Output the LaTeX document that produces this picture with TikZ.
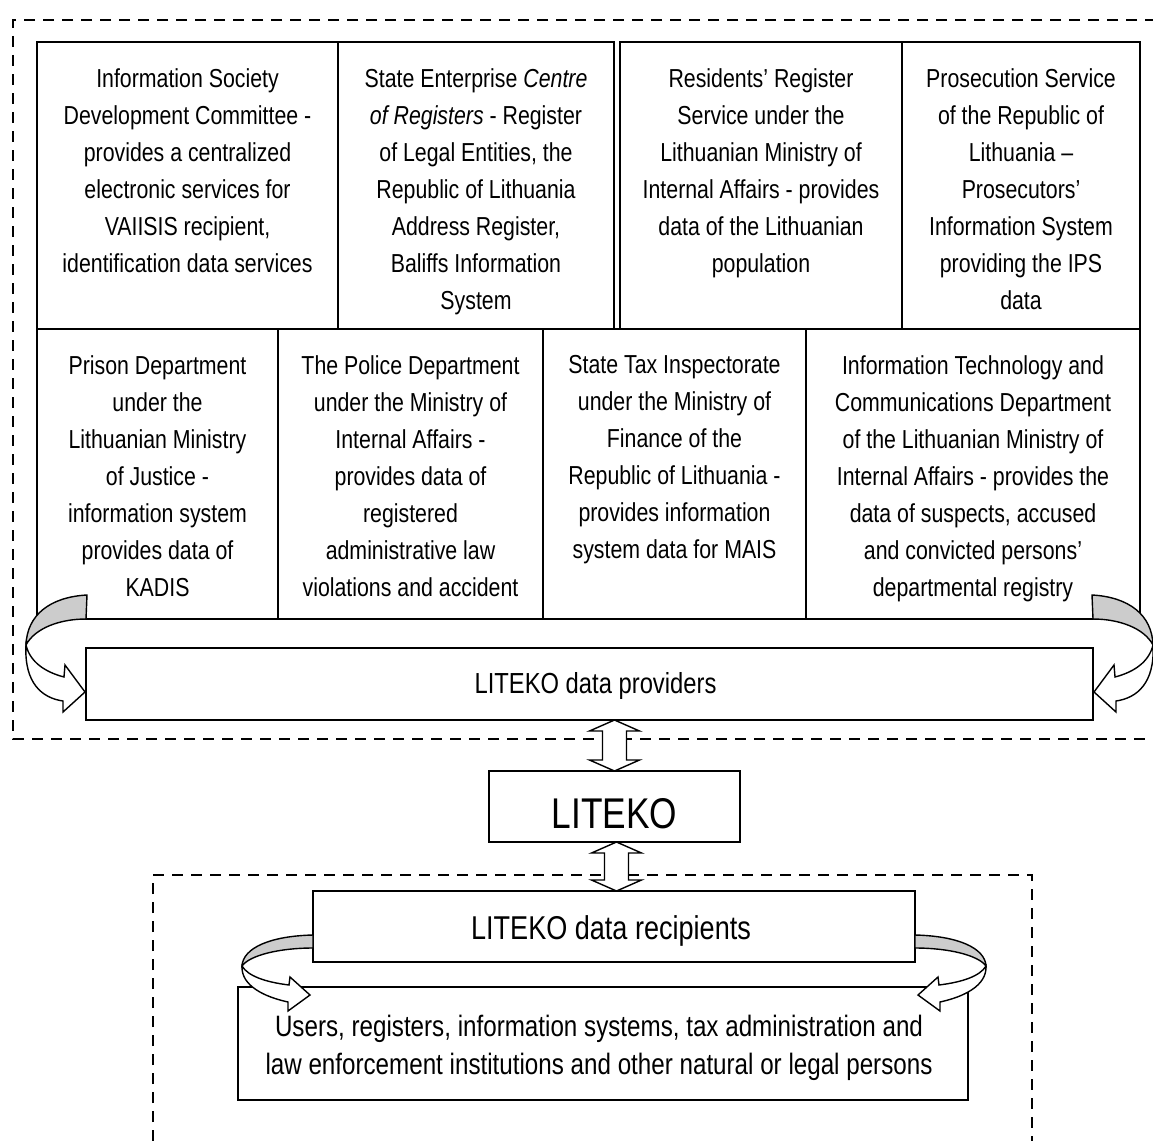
\documentclass[tikz,border=0pt]{standalone}
\usepackage{fontspec}
\setmainfont{Liberation Sans}[FakeStretch=0.82]
\usetikzlibrary{calc}
\newcommand\myTopCurl{%
  \filldraw[gry] (87,595) .. controls (50,597) and (27,615) .. (26,645)
     .. controls (35,628) and (60,619) .. (86,619) -- cycle;
  \filldraw[blk] (26,645) .. controls (24,683) and (42,698) .. (63,701)
     -- (63,712) -- (85,692) -- (65,665) -- (64,677)
     .. controls (45,672) and (30,662) .. (26,645) -- cycle;
}
\newcommand\myBotCurl{%
  \filldraw[gry] (313,935) .. controls (270,936) and (243,948) .. (242,966)
     .. controls (250,955) and (280,948) .. (313,948) -- cycle;
  \filldraw[blk] (242,966) .. controls (241,986) and (265,997) .. (288,1002)
     -- (288,1011) -- (310,995) -- (290,977) -- (289,985)
     .. controls (265,982) and (248,976) .. (242,966) -- cycle;
}
\begin{document}
\begin{tikzpicture}[x=1pt,y=-1pt,
  box/.style={draw, line width=1.4pt, inner sep=0pt, outer sep=0pt},
  txt/.style={align=center, inner sep=0pt, font=\fontsize{26}{37}\selectfont, anchor=north},
  lbl/.style={inner sep=0pt},
  dsh/.style={line width=2.8pt, dash pattern=on 11pt off 8pt},
  blk/.style={draw, line width=1.4pt, fill=white, line join=miter},
  gry/.style={draw, line width=1.4pt, fill=black!20}]
\useasboundingbox (0,0) rectangle (1153,1140);
\clip (0,0) rectangle (1153,1140);

% dashed groups
\draw[dsh] (1175,20) -- (13,20) -- (13,739) -- (1175,739);
\draw[dsh] (153,1160) -- (153,875) -- (1032,875) -- (1032,1160);

% top row
\node[box, minimum width=301pt, minimum height=287pt] (b1) at (187.5,185.5) {};
\node[box, minimum width=276pt, minimum height=287pt] (b2) at (476,185.5) {};
\node[box, minimum width=282pt, minimum height=287pt] (b3) at (761,185.5) {};
\node[box, minimum width=238pt, minimum height=287pt] (b4) at (1021,185.5) {};
% second row
\node[box, minimum width=241pt, minimum height=290pt] (b5) at (157.5,474) {};
\node[box, minimum width=265pt, minimum height=290pt] (b6) at (410.5,474) {};
\node[box, minimum width=263pt, minimum height=290pt] (b7) at (674.5,474) {};
\node[box, minimum width=334pt, minimum height=290pt] (b8) at (973,474) {};

\node[txt] (t1) at ($(b1.north)+(0,26)$) {Information Society\\Development Committee -\\provides a centralized\\electronic services for\\VAIISIS recipient,\\identification data services};
\node[txt] (t2) at ($(b2.north)+(0,26)$) {State Enterprise \textit{Centre}\\\textit{of Registers} - Register\\of Legal Entities, the\\Republic of Lithuania\\Address Register,\\Baliffs Information\\System};
\node[txt] (t3) at ($(b3.north)+(0,26)$) {Residents' Register\\Service under the\\Lithuanian Ministry of\\Internal Affairs - provides\\data of the Lithuanian\\population};
\node[txt] (t4) at ($(b4.north)+(0,26)$) {Prosecution Service\\of the Republic of\\Lithuania –\\Prosecutors’\\Information System\\providing the IPS\\data};
\node[txt] (t5) at ($(b5.north)+(0,26)$) {Prison Department\\under the\\Lithuanian Ministry\\of Justice -\\information system\\provides data of\\KADIS};
\node[txt] (t6) at ($(b6.north)+(0,26)$) {The Police Department\\under the Ministry of\\Internal Affairs -\\provides data of\\registered\\administrative law\\violations and accident};
\node[txt] (t7) at ($(b7.north)+(0,26)$) {State Tax Inspectorate\\under the Ministry of\\Finance of the\\Republic of Lithuania -\\provides information\\system data for MAIS};
\node[txt] (t8) at ($(b8.north)+(0,26)$) {Information Technology and\\Communications Department\\of the Lithuanian Ministry of\\Internal Affairs - provides the\\data of suspects, accused\\and convicted persons’\\departmental registry};

% providers, LITEKO, recipients, users
\node[box, fill=white, minimum width=1007pt, minimum height=72pt] (prov) at (589.5,684) {};
\node[lbl, font=\fontsize{29}{35}\selectfont] (tprov) at ($(prov.center)+(6,2)$) {LITEKO data providers};
\node[box, minimum width=251pt, minimum height=71pt] (lit) at (614.5,806.5) {};
\node[lbl, font=\fontsize{43}{50}\selectfont] (tlit) at ($(lit.center)+(0,7)$) {LITEKO};
\node[box, minimum width=602pt, minimum height=71pt] (rec) at (614,926.5) {};
\node[lbl, font=\fontsize{33}{39}\selectfont] (trec) at ($(rec.center)+(-3,4)$) {LITEKO data recipients};
\node[box, minimum width=730pt, minimum height=113pt] (users) at (603,1043.5) {};
\node[txt, font=\fontsize{29.5}{38}\selectfont] (tu) at ($(users.north)+(-4,28)$) {Users, registers, information systems, tax administration and\\law enforcement institutions and other natural or legal persons};

% curved arrows
\myTopCurl
\begin{scope}[shift={(1179,0)}, xscale=-1]
\myTopCurl
\end{scope}
\myBotCurl
\begin{scope}[shift={(1228,0)}, xscale=-1]
\myBotCurl
\end{scope}

% double arrows
\coordinate (a1t) at (lit.north |- prov.south);
\coordinate (a1b) at (lit.north);
\coordinate (a2t) at ($(lit.south)+(2,0)$);
\coordinate (a2b) at ($(lit.south |- rec.north)+(2,0)$);
\foreach \t/\b in {a1t/a1b, a2t/a2b}{
  \filldraw[blk] (\t) -- ++(25,11) -- ++(-13,0) -- ($(\b)+(12,-11)$) -- ++(13,0)
    -- (\b) -- ++(-25,-11) -- ++(13,0) -- ($(\t)+(-12,11)$) -- ++(-13,0) -- cycle;
}
\end{tikzpicture}
\end{document}
